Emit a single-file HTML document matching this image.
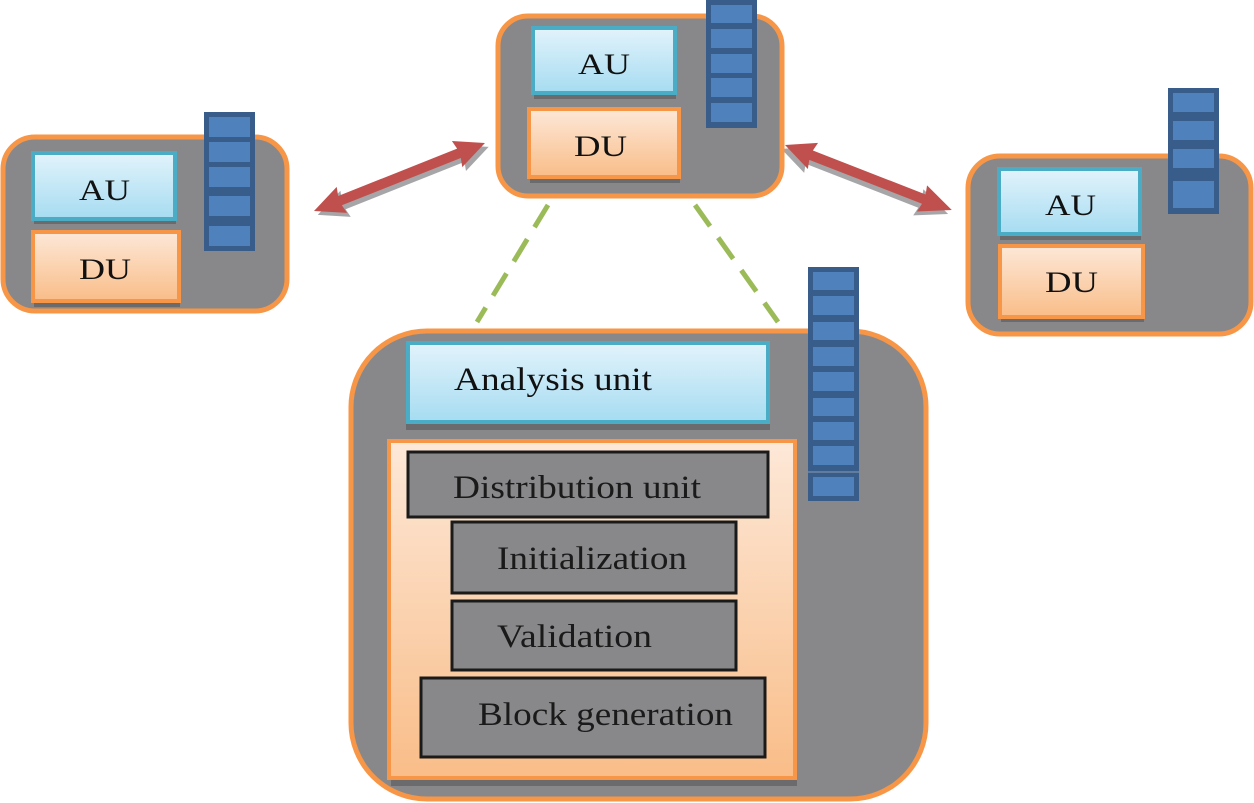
<!DOCTYPE html>
<html><head><meta charset="utf-8"><style>
html,body{margin:0;padding:0;background:#fff;}
svg{display:block;font-family:"Liberation Serif",serif;}
</style></head><body>
<svg width="1254" height="803" viewBox="0 0 1254 803" xmlns="http://www.w3.org/2000/svg">
<defs>
<linearGradient id="au" x1="0" y1="0" x2="0" y2="1"><stop offset="0" stop-color="#e2f3fb"/><stop offset="1" stop-color="#a6dcf1"/></linearGradient>
<linearGradient id="du" x1="0" y1="0" x2="0" y2="1"><stop offset="0" stop-color="#fde8d8"/><stop offset="1" stop-color="#f9bd88"/></linearGradient>
</defs>

<g stroke="#9bbb59" stroke-width="5" stroke-dasharray="26,14" fill="none">
<line x1="548" y1="205" x2="477" y2="322"/>
<line x1="695" y1="205" x2="778" y2="322"/>
</g>

<g transform="translate(314,211) rotate(-21.7)">
<polygon transform="translate(2,5)" fill="#a6a6a8" points="0,0 30,-14 28,-5 156,-5 154,-14 184,0 154,14 156,5 28,5 30,14"/>
<polygon fill="#c0504d" points="0,0 30,-14 28,-5 156,-5 154,-14 184,0 154,14 156,5 28,5 30,14"/>
</g>
<g transform="translate(785,145) rotate(21.3)">
<polygon transform="translate(-2,5)" fill="#a6a6a8" points="0,0 30,-14 28,-5 149,-5 147,-14 179,0 147,14 149,5 28,5 30,14"/>
<polygon fill="#c0504d" points="0,0 30,-14 28,-5 149,-5 147,-14 179,0 147,14 149,5 28,5 30,14"/>
</g>

<rect x="3" y="137" width="284" height="174" rx="32" fill="#88888a" stroke="#f79646" stroke-width="5"/>
<rect x="34" y="156" width="142" height="68" fill="#6b6b6d"/>
<rect x="33" y="153" width="142" height="66" fill="url(#au)" stroke="#4bacc6" stroke-width="4"/>
<text x="79" y="200" font-size="30" textLength="51" lengthAdjust="spacingAndGlyphs" fill="#111">AU</text>
<rect x="34" y="234" width="146" height="73" fill="#6b6b6d"/>
<rect x="33" y="232" width="146" height="69" fill="url(#du)" stroke="#f79646" stroke-width="4"/>
<text x="79" y="279" font-size="30" textLength="52" lengthAdjust="spacingAndGlyphs" fill="#111">DU</text>
<rect x="204" y="112" width="51" height="139" fill="#385d8a"/>
<g fill="#4f81bd"><rect x="209" y="117" width="41" height="20"/><rect x="209" y="142" width="41" height="20"/><rect x="209" y="167" width="41" height="20"/><rect x="209" y="196" width="41" height="20"/><rect x="209" y="226" width="41" height="20"/></g>

<rect x="498" y="16" width="284" height="180" rx="30" fill="#88888a" stroke="#f79646" stroke-width="5"/>
<rect x="534" y="31" width="142" height="68" fill="#6b6b6d"/>
<rect x="533" y="28" width="142" height="65" fill="url(#au)" stroke="#4bacc6" stroke-width="4"/>
<text x="578" y="74" font-size="30" textLength="52" lengthAdjust="spacingAndGlyphs" fill="#111">AU</text>
<rect x="530" y="111" width="150" height="72" fill="#6b6b6d"/>
<rect x="529" y="109" width="150" height="68" fill="url(#du)" stroke="#f79646" stroke-width="4"/>
<text x="574" y="156" font-size="30" textLength="53" lengthAdjust="spacingAndGlyphs" fill="#111">DU</text>
<rect x="706" y="0" width="51" height="128" fill="#385d8a"/>
<g fill="#4f81bd"><rect x="711" y="5" width="41" height="18"/><rect x="711" y="29" width="41" height="19"/><rect x="711" y="54" width="41" height="19"/><rect x="711" y="78" width="41" height="19"/><rect x="711" y="103" width="41" height="19"/></g>

<rect x="968" y="156" width="283" height="178" rx="32" fill="#88888a" stroke="#f79646" stroke-width="5"/>
<rect x="1000" y="172" width="141" height="68" fill="#6b6b6d"/>
<rect x="999" y="169" width="141" height="65" fill="url(#au)" stroke="#4bacc6" stroke-width="4"/>
<text x="1045" y="215" font-size="30" textLength="51" lengthAdjust="spacingAndGlyphs" fill="#111">AU</text>
<rect x="1001" y="248" width="143" height="74" fill="#6b6b6d"/>
<rect x="1000" y="246" width="143" height="71" fill="url(#du)" stroke="#f79646" stroke-width="4"/>
<text x="1045" y="292" font-size="30" textLength="53" lengthAdjust="spacingAndGlyphs" fill="#111">DU</text>
<rect x="1168" y="88" width="51" height="126" fill="#385d8a"/>
<g fill="#4f81bd"><rect x="1173" y="93" width="41" height="19"/><rect x="1173" y="121" width="41" height="19"/><rect x="1173" y="149" width="41" height="19"/><rect x="1173" y="181" width="41" height="27"/></g>

<rect x="351" y="331" width="575" height="468" rx="76" fill="#88888a" stroke="#f79646" stroke-width="5"/>
<rect x="406" y="346" width="364" height="84" fill="#6b6b6d"/>
<rect x="408" y="343" width="360" height="79" fill="url(#au)" stroke="#4bacc6" stroke-width="4"/>
<text x="454" y="390" font-size="33" textLength="198" lengthAdjust="spacingAndGlyphs" fill="#111">Analysis unit</text>
<rect x="391" y="444" width="406" height="342" fill="#6b6b6d"/>
<rect x="389" y="441" width="406" height="337" fill="url(#du)" stroke="#f79646" stroke-width="4"/>
<g fill="#88888a" stroke="#1a1a1a" stroke-width="3">
<rect x="408" y="452" width="360" height="65"/>
<rect x="452" y="522" width="284" height="71"/>
<rect x="452" y="601" width="284" height="69"/>
<rect x="421" y="678" width="344" height="79"/>
</g>
<g font-size="33" fill="#1a1a1a">
<text x="453" y="498" textLength="248" lengthAdjust="spacingAndGlyphs">Distribution unit</text>
<text x="497" y="569" textLength="190" lengthAdjust="spacingAndGlyphs">Initialization</text>
<text x="497" y="647" textLength="155" lengthAdjust="spacingAndGlyphs">Validation</text>
<text x="478" y="725" textLength="255" lengthAdjust="spacingAndGlyphs">Block generation</text>
</g>
<rect x="808" y="267" width="51" height="234" fill="#385d8a"/>
<g fill="#4f81bd"><rect x="813" y="272" width="41" height="18"/><rect x="813" y="296" width="41" height="19"/><rect x="813" y="322" width="41" height="18"/><rect x="813" y="347" width="41" height="19"/><rect x="813" y="372" width="41" height="19"/><rect x="813" y="398" width="41" height="18"/><rect x="813" y="422" width="41" height="18"/><rect x="813" y="446" width="41" height="19"/><rect x="813" y="477" width="41" height="19"/></g>
<line x1="808" y1="472" x2="859" y2="472" stroke="#8a9bb0" stroke-width="1"/>
</svg>
</body></html>
